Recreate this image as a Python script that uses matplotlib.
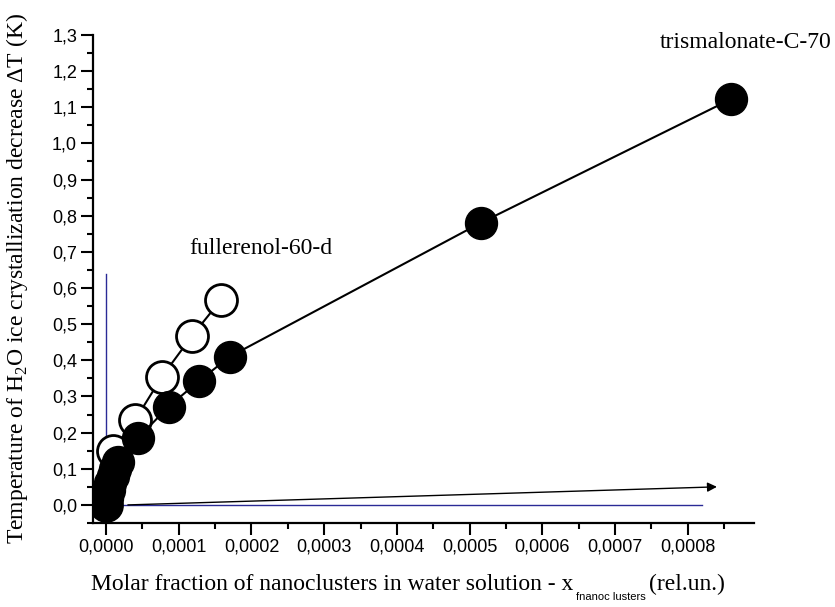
import matplotlib
matplotlib.use("Agg")
import matplotlib.pyplot as plt
from matplotlib.ticker import FixedLocator, MultipleLocator

# trismalonate-C-70 (filled circles)
tris_x = [0.0, 0.000002, 0.000004, 0.000006, 0.000009, 0.000012, 0.000017,
          0.000044, 0.000086, 0.000128, 0.00017, 0.000515, 0.00086]
tris_y = [0.0, 0.02, 0.04, 0.06, 0.08, 0.10, 0.12,
          0.185, 0.272, 0.343, 0.41, 0.78, 1.123]

# fullerenol-60-d (open circles)
full_x = [0.0, 0.00001, 0.00004, 0.000077, 0.000118, 0.000158]
full_y = [0.0, 0.15, 0.235, 0.355, 0.467, 0.567]

x_ticks = [0.0, 0.0001, 0.0002, 0.0003, 0.0004, 0.0005, 0.0006, 0.0007, 0.0008]
x_labels = ['0,0000', '0,0001', '0,0002', '0,0003', '0,0004', '0,0005',
            '0,0006', '0,0007', '0,0008']
y_ticks = [0.0, 0.1, 0.2, 0.3, 0.4, 0.5, 0.6, 0.7, 0.8, 0.9, 1.0, 1.1, 1.2, 1.3]
y_labels = ['0,0', '0,1', '0,2', '0,3', '0,4', '0,5', '0,6', '0,7', '0,8',
            '0,9', '1,0', '1,1', '1,2', '1,3']

# guide lines and arrow
vline_x = [0.0, 0.0]
vline_y = [-0.05, 0.64]
hline_x = [0.0, 0.00082]
hline_y = [0.0, 0.0]
arrow_start = (0.00003, 0.0)
arrow_end = (0.00084, 0.05)

serif = 'Liberation Serif'
sans = 'Liberation Sans'
blue = '#2a2a96'

fig = plt.figure(figsize=(8.35, 6.07), dpi=100)
ax = fig.add_axes([0.1114, 0.1384, 0.7916, 0.804])

ax.plot(vline_x, vline_y, color=blue, lw=1.0, zorder=1)
ax.plot(hline_x, hline_y, color=blue, lw=1.0, zorder=1)
ax.annotate('', xy=arrow_end, xytext=arrow_start,
            arrowprops=dict(arrowstyle='-|>', color='black', lw=1.0,
                            mutation_scale=14, shrinkA=0, shrinkB=0),
            zorder=2)

ax.plot(full_x, full_y, '-o', color='black', mfc='white', mec='black',
        ms=23, mew=2, lw=1.5, zorder=3)
ax.plot(tris_x, tris_y, '-o', color='black', mfc='black', mec='black',
        ms=23, lw=1.5, zorder=4)

ax.set_xlim(-0.0000179, 0.000891)
ax.set_ylim(-0.05, 1.3)

ax.xaxis.set_major_locator(FixedLocator(x_ticks))
ax.set_xticklabels(x_labels)
ax.yaxis.set_major_locator(FixedLocator(y_ticks))
ax.set_yticklabels(y_labels)
ax.xaxis.set_minor_locator(MultipleLocator(0.00005))
ax.yaxis.set_minor_locator(MultipleLocator(0.05))

for s in ['top', 'right']:
    ax.spines[s].set_visible(False)
for s in ['left', 'bottom']:
    ax.spines[s].set_linewidth(1.6)

ax.tick_params(which='major', direction='out', length=8.5, width=1.5,
               labelsize=13, pad=3)
ax.tick_params(which='minor', direction='out', length=4.5, width=1.5)
for lab in ax.get_xticklabels() + ax.get_yticklabels():
    lab.set_family(sans)

ax.text(0.000762, 1.278, 'trismalonate-C-70', fontsize=17, family=serif,
        ha='left', va='center', clip_on=False)
ax.text(0.000114, 0.708, 'fullerenol-60-d', fontsize=17, family=serif,
        ha='left', va='center', clip_on=False)

fig.text(17 / 835, 1 - 278 / 607,
         r'Temperature of H$_\mathregular{2}$O ice crystallization decrease ΔT (K)',
         rotation=90, fontsize=17, family=serif, ha='center', va='center')

# x label built from pieces so the subscript can be tiny
W, H = 835, 607
base_y = 1 - 590 / H
t1 = fig.text(91 / W, base_y,
              'Molar fraction of nanoclusters in water solution - x',
              fontsize=17, family=serif, va='baseline')
fig.canvas.draw()
bb = t1.get_window_extent()
t2 = fig.text((bb.x1 + 3) / W, base_y - 10 / H, 'fnanoc lusters',
              fontsize=8, family=sans, va='baseline')
fig.canvas.draw()
bb2 = t2.get_window_extent()
fig.text((bb2.x1 + 3) / W, base_y, '(rel.un.)', fontsize=17, family=serif,
         va='baseline')

fig.savefig('out.png', dpi=100)
